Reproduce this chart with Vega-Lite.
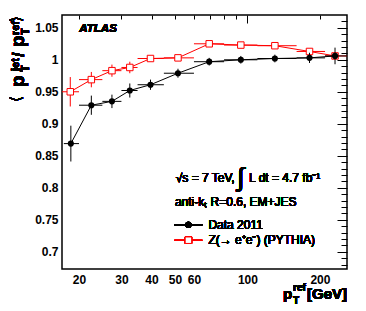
{
  "$schema": "https://vega.github.io/schema/vega-lite/v6.json",
  "width": 285,
  "height": 254,
  "autosize": "none",
  "padding": {"left": 62, "top": 15, "right": 19, "bottom": 42},
  "config": {
    "view": {"stroke": "black", "strokeWidth": 1.5},
    "axis": {"domain": false, "grid": false, "labelFont": "Liberation Sans", "labelFontWeight": "bold", "labelFontSize": 12, "labelColor": "black", "tickColor": "black", "tickWidth": 1, "labelFlush": false, "labelOverlap": false},
    "text": {"font": "Liberation Sans", "fontSize": 12, "fontWeight": "normal", "color": "black"}
  },
  "data": {"values": [
    {"series": "Z", "pt": 18.4, "y": 0.950, "ylo": 0.927, "yhi": 0.973, "xlo": 17, "xhi": 20},
    {"series": "Z", "pt": 22.5, "y": 0.969, "ylo": 0.957, "yhi": 0.981, "xlo": 20, "xhi": 25},
    {"series": "Z", "pt": 27.4, "y": 0.983, "ylo": 0.9735, "yhi": 0.9925, "xlo": 25, "xhi": 30},
    {"series": "Z", "pt": 32.5, "y": 0.988, "ylo": 0.979, "yhi": 0.997, "xlo": 30, "xhi": 35},
    {"series": "Z", "pt": 39.6, "y": 1.002, "ylo": 0.999, "yhi": 1.005, "xlo": 35, "xhi": 45},
    {"series": "Z", "pt": 51.5, "y": 1.003, "ylo": 1.001, "yhi": 1.005, "xlo": 45, "xhi": 60},
    {"series": "Z", "pt": 69.4, "y": 1.025, "ylo": 1.023, "yhi": 1.027, "xlo": 60, "xhi": 80},
    {"series": "Z", "pt": 93.9, "y": 1.023, "ylo": 1.021, "yhi": 1.025, "xlo": 80, "xhi": 110},
    {"series": "Z", "pt": 130, "y": 1.022, "ylo": 1.020, "yhi": 1.024, "xlo": 110, "xhi": 160},
    {"series": "Z", "pt": 181, "y": 1.013, "ylo": 1.011, "yhi": 1.015, "xlo": 160, "xhi": 210},
    {"series": "Z", "pt": 231, "y": 1.006, "ylo": 1.003, "yhi": 1.009, "xlo": 210, "xhi": 259},
    {"series": "Data", "pt": 18.5, "y": 0.869, "ylo": 0.841, "yhi": 0.897, "xlo": 17.3, "xhi": 20},
    {"series": "Data", "pt": 22.5, "y": 0.929, "ylo": 0.914, "yhi": 0.944, "xlo": 20, "xhi": 25},
    {"series": "Data", "pt": 27.4, "y": 0.935, "ylo": 0.9245, "yhi": 0.9455, "xlo": 25, "xhi": 30},
    {"series": "Data", "pt": 32.5, "y": 0.952, "ylo": 0.941, "yhi": 0.963, "xlo": 30, "xhi": 35},
    {"series": "Data", "pt": 39.6, "y": 0.961, "ylo": 0.953, "yhi": 0.969, "xlo": 35, "xhi": 45},
    {"series": "Data", "pt": 51.5, "y": 0.979, "ylo": 0.972, "yhi": 0.986, "xlo": 45, "xhi": 60},
    {"series": "Data", "pt": 69.4, "y": 0.997, "ylo": 0.991, "yhi": 1.003, "xlo": 60, "xhi": 80},
    {"series": "Data", "pt": 93.9, "y": 1.0, "ylo": 0.994, "yhi": 1.006, "xlo": 80, "xhi": 110},
    {"series": "Data", "pt": 130, "y": 1.002, "ylo": 0.996, "yhi": 1.008, "xlo": 110, "xhi": 160},
    {"series": "Data", "pt": 181, "y": 1.003, "ylo": 0.995, "yhi": 1.011, "xlo": 160, "xhi": 210},
    {"series": "Data", "pt": 231, "y": 1.006, "ylo": 0.993, "yhi": 1.019, "xlo": 210, "xhi": 259}
  ]},
  "resolve": {"axis": {"x": "independent", "y": "independent"}},
  "layer": [
    {
      "transform": [{"filter": "datum.series === 'Z'"}],
      "mark": {"type": "rule", "color": "#ff0000", "strokeWidth": 1, "clip": true},
      "encoding": {
        "x": {"field": "xlo", "type": "quantitative", "scale": {"type": "log", "domain": [17, 259], "nice": false},
              "axis": {"values": [20, 30, 40, 50, 60, 100, 200], "format": "d", "ticks": false, "labelPadding": 5, "title": null}},
        "x2": {"field": "xhi"},
        "y": {"field": "y", "type": "quantitative", "scale": {"domain": [0.673, 1.07], "nice": false, "zero": false},
              "axis": {"values": [0.7, 0.75, 0.8, 0.85, 0.9, 0.95, 1, 1.05], "format": "~g", "ticks": false, "labelPadding": 4, "title": null}}
      }
    },
    {
      "transform": [{"filter": "datum.series === 'Z'"}],
      "mark": {"type": "rule", "color": "#ff0000", "strokeWidth": 1},
      "encoding": {
        "x": {"field": "pt", "type": "quantitative", "scale": {"type": "log", "domain": [17, 259], "nice": false},
              "axis": {"values": [20, 30, 40, 50, 60, 70, 80, 90, 200], "labels": false, "tickSize": 4, "offset": -4, "title": null}},
        "y": {"field": "ylo", "type": "quantitative", "scale": {"domain": [0.673, 1.07], "nice": false, "zero": false},
              "axis": {"values": [0.7, 0.75, 0.8, 0.85, 0.9, 0.95, 1, 1.05], "labels": false, "tickSize": 10, "offset": -10, "title": null}},
        "y2": {"field": "yhi"}
      }
    },
    {
      "transform": [{"filter": "datum.series === 'Z'"}],
      "mark": {"type": "line", "color": "#ff0000", "strokeWidth": 1},
      "encoding": {
        "x": {"field": "pt", "type": "quantitative", "scale": {"type": "log", "domain": [17, 259], "nice": false},
              "axis": {"values": [100], "labels": false, "tickSize": 8, "offset": -8, "title": null}},
        "y": {"field": "y", "type": "quantitative", "scale": {"domain": [0.673, 1.07], "nice": false, "zero": false},
              "axis": {"values": [0.68, 0.69, 0.71, 0.72, 0.73, 0.74, 0.76, 0.77, 0.78, 0.79, 0.81, 0.82, 0.83, 0.84, 0.86, 0.87, 0.88, 0.89, 0.91, 0.92, 0.93, 0.94, 0.96, 0.97, 0.98, 0.99, 1.01, 1.02, 1.03, 1.04, 1.06], "labels": false, "tickSize": 6, "offset": -6, "title": null}}
      }
    },
    {
      "transform": [{"filter": "datum.series === 'Z'"}],
      "mark": {"type": "point", "shape": "square", "size": 42, "filled": false, "fill": "white", "fillOpacity": 1, "stroke": "#ff0000", "strokeWidth": 1, "opacity": 1},
      "encoding": {
        "x": {"field": "pt", "type": "quantitative", "axis": null},
        "y": {"field": "y", "type": "quantitative", "axis": null}
      }
    },
    {
      "transform": [{"filter": "datum.series === 'Data'"}],
      "mark": {"type": "rule", "color": "black", "strokeWidth": 1, "clip": true},
      "encoding": {
        "x": {"field": "xlo", "type": "quantitative", "axis": null},
        "x2": {"field": "xhi"},
        "y": {"field": "y", "type": "quantitative", "axis": null}
      }
    },
    {
      "transform": [{"filter": "datum.series === 'Data'"}],
      "mark": {"type": "rule", "color": "black", "strokeWidth": 1},
      "encoding": {
        "x": {"field": "pt", "type": "quantitative", "axis": null},
        "y": {"field": "ylo", "type": "quantitative", "axis": null},
        "y2": {"field": "yhi"}
      }
    },
    {
      "transform": [{"filter": "datum.series === 'Data'"}],
      "mark": {"type": "line", "color": "black", "strokeWidth": 1},
      "encoding": {
        "x": {"field": "pt", "type": "quantitative", "axis": null},
        "y": {"field": "y", "type": "quantitative", "axis": null}
      }
    },
    {
      "transform": [{"filter": "datum.series === 'Data'"}],
      "mark": {"type": "circle", "size": 38, "color": "black", "opacity": 1},
      "encoding": {
        "x": {"field": "pt", "type": "quantitative", "axis": null},
        "y": {"field": "y", "type": "quantitative", "axis": null}
      }
    },
    {
      "mark": {"type": "rule", "color": "black", "strokeWidth": 1},
      "encoding": {"x": {"datum": 49.8, "type": "quantitative", "axis": null}, "x2": {"datum": 65}, "y": {"datum": 0.742, "type": "quantitative", "axis": null}}
    },
    {
      "mark": {"type": "circle", "size": 38, "color": "black", "opacity": 1},
      "encoding": {"x": {"datum": 56.9, "type": "quantitative", "axis": null}, "y": {"datum": 0.742, "type": "quantitative", "axis": null}}
    },
    {
      "mark": {"type": "rule", "color": "#ff0000", "strokeWidth": 1, "opacity": 0.5},
      "encoding": {"x": {"datum": 49.8, "type": "quantitative", "axis": null}, "x2": {"datum": 65}, "y": {"datum": 0.718, "type": "quantitative", "axis": null}}
    },
    {
      "mark": {"type": "point", "shape": "square", "size": 42, "filled": false, "fill": "white", "fillOpacity": 1, "stroke": "#ff0000", "strokeWidth": 1, "opacity": 0.6},
      "encoding": {"x": {"datum": 56.9, "type": "quantitative", "axis": null}, "y": {"datum": 0.718, "type": "quantitative", "axis": null}}
    },
    {
      "mark": {"type": "text", "text": "Data 2011", "align": "left", "baseline": "middle", "fontWeight": "normal"},
      "encoding": {"x": {"datum": 68.9, "type": "quantitative", "axis": null}, "y": {"datum": 0.742, "type": "quantitative", "axis": null}}
    },
    {
      "mark": {"type": "text", "text": "Z(→ e⁺e⁻) (PYTHIA)", "align": "left", "baseline": "middle", "fontWeight": "normal"},
      "encoding": {"x": {"datum": 68.9, "type": "quantitative", "axis": null}, "y": {"datum": 0.718, "type": "quantitative", "axis": null}}
    },
    {
      "mark": {"type": "text", "text": "√s = 7 TeV,", "align": "left", "baseline": "middle", "fontWeight": "normal"},
      "encoding": {"x": {"datum": 50.4, "type": "quantitative", "axis": null}, "y": {"datum": 0.8156, "type": "quantitative", "axis": null}}
    },
    {
      "mark": {"type": "text", "text": "∫", "align": "center", "baseline": "middle", "fontSize": 26, "fontWeight": "normal"},
      "encoding": {"x": {"datum": 93.7, "type": "quantitative", "axis": null}, "y": {"datum": 0.8156, "type": "quantitative", "axis": null}}
    },
    {
      "mark": {"type": "text", "text": "L dt = 4.7 fb⁻¹", "align": "left", "baseline": "middle", "fontWeight": "normal"},
      "encoding": {"x": {"datum": 101.6, "type": "quantitative", "axis": null}, "y": {"datum": 0.8156, "type": "quantitative", "axis": null}}
    },
    {
      "mark": {"type": "text", "text": "anti-kₜ R=0.6, EM+JES", "align": "left", "baseline": "middle", "fontWeight": "normal"},
      "encoding": {"x": {"datum": 50, "type": "quantitative", "axis": null}, "y": {"datum": 0.777, "type": "quantitative", "axis": null}}
    },
    {
      "mark": {"type": "text", "text": "ATLAS", "align": "left", "baseline": "middle", "fontSize": 11.5, "fontWeight": "bold", "fontStyle": "italic"},
      "encoding": {"x": {"datum": 20.06, "type": "quantitative", "axis": null}, "y": {"datum": 1.048, "type": "quantitative", "axis": null}}
    },
    {
      "mark": {"type": "text", "text": "[GeV]", "align": "right", "baseline": "alphabetic", "fontSize": 15, "fontWeight": "bold", "dx": 0, "dy": 30},
      "encoding": {"x": {"datum": 259, "type": "quantitative", "axis": null}, "y": {"datum": 0.673, "type": "quantitative", "axis": null}}
    },
    {
      "mark": {"type": "text", "text": "p", "align": "left", "baseline": "alphabetic", "fontSize": 15, "fontWeight": "bold", "dx": -64, "dy": 30},
      "encoding": {"x": {"datum": 259, "type": "quantitative", "axis": null}, "y": {"datum": 0.673, "type": "quantitative", "axis": null}}
    },
    {
      "mark": {"type": "text", "text": "T", "align": "left", "baseline": "alphabetic", "fontSize": 10, "fontWeight": "bold", "dx": -54, "dy": 35},
      "encoding": {"x": {"datum": 259, "type": "quantitative", "axis": null}, "y": {"datum": 0.673, "type": "quantitative", "axis": null}}
    },
    {
      "mark": {"type": "text", "text": "ref", "align": "left", "baseline": "alphabetic", "fontSize": 10, "fontWeight": "bold", "dx": -54, "dy": 22},
      "encoding": {"x": {"datum": 259, "type": "quantitative", "axis": null}, "y": {"datum": 0.673, "type": "quantitative", "axis": null}}
    },
    {
      "mark": {"type": "text", "text": "⟨", "align": "left", "baseline": "middle", "font": "DejaVu Sans", "fontSize": 15, "fontWeight": "normal", "angle": 270, "dx": -87, "dy": -46},
      "encoding": {"x": {"datum": 17, "type": "quantitative", "axis": null}, "y": {"datum": 1.07, "type": "quantitative", "axis": null}}
    },
    {
      "mark": {"type": "text", "text": "p", "align": "left", "baseline": "alphabetic", "fontSize": 19, "fontWeight": "bold", "angle": 270, "dx": -72, "dy": -38},
      "encoding": {"x": {"datum": 17, "type": "quantitative", "axis": null}, "y": {"datum": 1.07, "type": "quantitative", "axis": null}}
    },
    {
      "mark": {"type": "text", "text": "T", "align": "left", "baseline": "alphabetic", "fontSize": 11, "fontWeight": "bold", "angle": 270, "dx": -57, "dy": -33},
      "encoding": {"x": {"datum": 17, "type": "quantitative", "axis": null}, "y": {"datum": 1.07, "type": "quantitative", "axis": null}}
    },
    {
      "mark": {"type": "text", "text": "jet", "align": "left", "baseline": "alphabetic", "fontSize": 11, "fontWeight": "bold", "angle": 270, "dx": -56, "dy": -43},
      "encoding": {"x": {"datum": 17, "type": "quantitative", "axis": null}, "y": {"datum": 1.07, "type": "quantitative", "axis": null}}
    },
    {
      "mark": {"type": "text", "text": "/", "align": "left", "baseline": "alphabetic", "fontSize": 17, "fontWeight": "bold", "angle": 270, "dx": -42, "dy": -38},
      "encoding": {"x": {"datum": 17, "type": "quantitative", "axis": null}, "y": {"datum": 1.07, "type": "quantitative", "axis": null}}
    },
    {
      "mark": {"type": "text", "text": "p", "align": "left", "baseline": "alphabetic", "fontSize": 19, "fontWeight": "bold", "angle": 270, "dx": -32, "dy": -38},
      "encoding": {"x": {"datum": 17, "type": "quantitative", "axis": null}, "y": {"datum": 1.07, "type": "quantitative", "axis": null}}
    },
    {
      "mark": {"type": "text", "text": "T", "align": "left", "baseline": "alphabetic", "fontSize": 11, "fontWeight": "bold", "angle": 270, "dx": -20, "dy": -33},
      "encoding": {"x": {"datum": 17, "type": "quantitative", "axis": null}, "y": {"datum": 1.07, "type": "quantitative", "axis": null}}
    },
    {
      "mark": {"type": "text", "text": "ref", "align": "left", "baseline": "alphabetic", "fontSize": 11, "fontWeight": "bold", "angle": 270, "dx": -20, "dy": -43},
      "encoding": {"x": {"datum": 17, "type": "quantitative", "axis": null}, "y": {"datum": 1.07, "type": "quantitative", "axis": null}}
    },
    {
      "mark": {"type": "text", "text": "⟩", "align": "left", "baseline": "middle", "font": "DejaVu Sans", "fontSize": 15, "fontWeight": "normal", "angle": 270, "dx": -7, "dy": -46},
      "encoding": {"x": {"datum": 17, "type": "quantitative", "axis": null}, "y": {"datum": 1.07, "type": "quantitative", "axis": null}}
    }
  ]
}
